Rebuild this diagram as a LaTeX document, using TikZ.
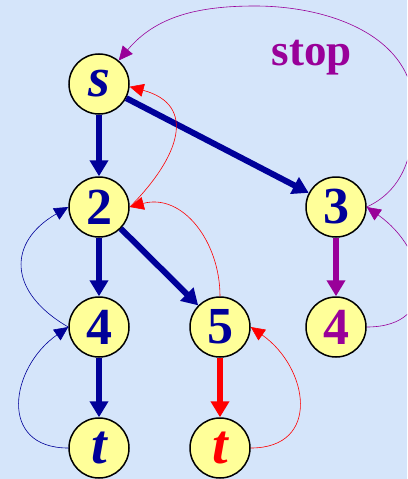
\documentclass[tikz,border=0pt]{standalone}
\usepackage{fontspec}
\setmainfont{Liberation Serif}
\usetikzlibrary{arrows.meta}
\definecolor{bg}{RGB}{213,229,250}
\definecolor{nodey}{RGB}{255,255,153}
\definecolor{navy}{RGB}{0,0,153}
\definecolor{purp}{RGB}{153,0,153}
\definecolor{redd}{RGB}{255,0,0}
\begin{document}
\begin{tikzpicture}[x=1pt,y=1pt,
  vtx/.style={circle,draw=black,line width=1.5pt,fill=nodey,minimum size=60pt,inner sep=0pt,text=navy,font=\fontsize{52}{52}\selectfont\bfseries},
  lett/.style={font=\fontsize{56}{56}\selectfont\bfseries\itshape},
  thickedge/.style={line width=6pt,-{Triangle[length=16pt,width=18pt]}},
  thinedge/.style={line width=0.6pt,-{Triangle[length=14pt,width=13pt]}}]
\useasboundingbox (0,0) rectangle (407,-479);
\fill[bg] (0,0) rectangle (407,-479);
\begin{scope}
\clip (0,0) rectangle (407,-479);
\node[vtx,lett] (s) at (99,-84) {s};
\node[vtx] (n2) at (99,-207) {2};
\node[vtx] (n3) at (336,-207) {3};
\node[vtx] (n4) at (99,-327) {4};
\node[vtx] (n5) at (220,-327) {5};
\node[vtx,text=purp] (n4b) at (336,-327) {4};
\node[vtx,lett] (t1) at (99,-448) {t};
\node[vtx,lett,text=redd] (t2) at (220,-448) {t};
\node[text=purp,font=\fontsize{45}{45}\selectfont\bfseries,anchor=base,inner sep=0pt] (stop) at (312,-65) {stop};
% thick forward edges
\draw[thickedge,navy] (s) -- (n2);
\draw[thickedge,navy] (s) -- (n3);
\draw[thickedge,navy] (n2) -- (n4);
\draw[thickedge,navy] (n2) -- (n5);
\draw[thickedge,navy] (n4) -- (t1);
\draw[thickedge,purp] (n3) -- (n4b);
\draw[thickedge,redd] (n5) -- (t2);
% thin return edges
\draw[thinedge,navy] (t1.180) to[out=180,in=215,looseness=1.5] (n4.180);
\draw[thinedge,navy] (n4.180) to[out=150,in=210,looseness=1.5] (n2.180);
\draw[thinedge,redd] (t2.0) to[out=0,in=-35,looseness=1.5] (n5.0);
\draw[thinedge,redd] (n5.90) to[out=90,in=15,looseness=1.1] (n2.0);
\draw[thinedge,redd] (n2.0) to[out=45,in=-15,looseness=1.5] (s.-5);
\draw[thinedge,purp] (n4b.0) to[out=0,in=-35,looseness=1.6] (n3.0);
\draw[thinedge,purp] (n3.0) to[out=25,in=-90] (414,-110) to[out=90,in=0] (255,-6) to[out=180,in=50] (s.50);
\end{scope}
\end{tikzpicture}
\end{document}
